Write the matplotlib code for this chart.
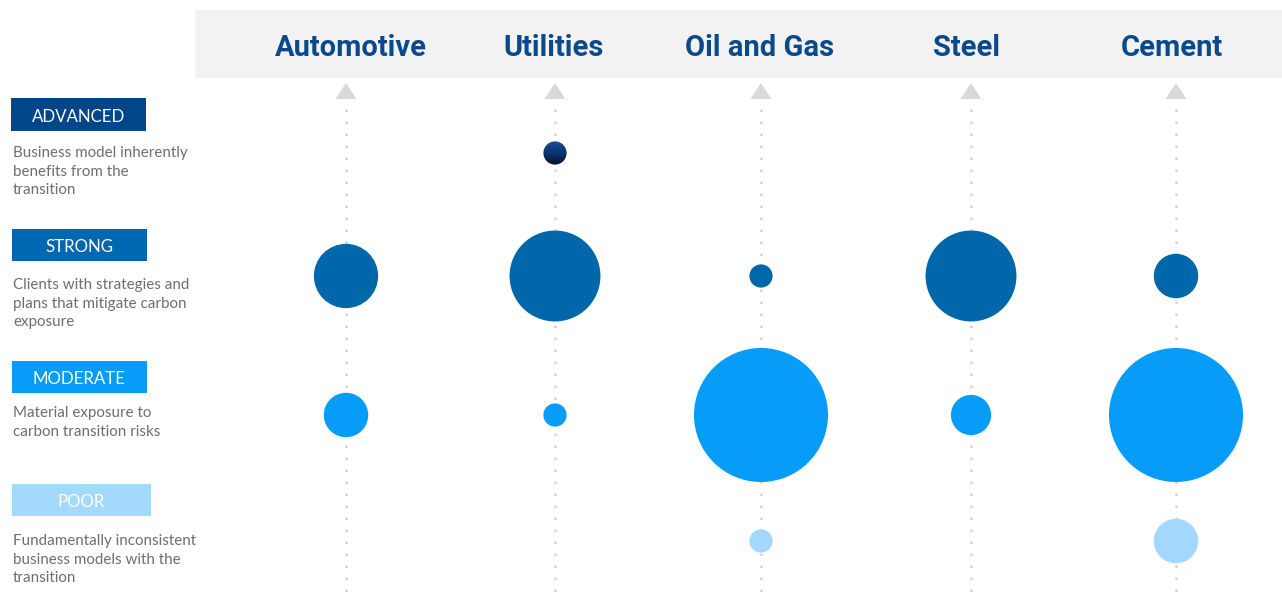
import numpy as np
import matplotlib
matplotlib.use('Agg')
import matplotlib.pyplot as plt
from matplotlib.patches import Rectangle, Circle

# 데이터
sectors = ['Automotive', 'Utilities', 'Oil and Gas', 'Steel', 'Cement']
ratings = ['ADVANCED', 'STRONG', 'MODERATE', 'POOR']
descriptions = [
    'Business model inherently\nbenefits from the\ntransition',
    'Clients with strategies and\nplans that mitigate carbon\nexposure',
    'Material exposure to\ncarbon transition risks',
    'Fundamentally inconsistent\nbusiness models with the\ntransition',
]
# 버블 크기 (면적 비례, 0 = 없음)
advanced = [0, 3, 0, 0, 0]
strong = [23, 46, 3, 46, 11]
moderate = [11, 3, 100, 9, 100]
poor = [0, 0, 3, 0, 11]

# 스타일 / 레이아웃
W, H = 1282, 597
col_x = [346, 555, 761, 971, 1176]
head_dx = [5, -1, -1, -5, -4]
row_y = [153, 276, 415, 541]
box_y = [(98, 131), (229, 261), (361, 393), (484, 516)]
box_x = [(11, 146), (12, 147), (12, 147), (12, 151)]
desc_y = [146.5, 278.5, 406.5, 534.5]
colors = ['#0b3f7e', '#0067ab', '#069cf8', '#a2d8fd']
box_colors = ['#004689', '#0068b0', '#069cf8', '#a3d9fd']
header_color = '#0a4a8c'
d_max = 134  # 값 100 에 대한 지름(px)

fig = plt.figure(figsize=(W / 100, H / 100), dpi=100)
ax = fig.add_axes([0, 0, 1, 1])
ax.set_xlim(0, W)
ax.set_ylim(H, 0)
ax.axis('off')

# 헤더
ax.add_patch(Rectangle((195, 10), W - 195, 68, color='#f2f2f2', lw=0, zorder=0))
for i, name in enumerate(sectors):
    x = col_x[i]
    ax.text(x + head_dx[i], 48, name, ha='center', va='center', fontsize=21,
            fontweight='bold', color=header_color, family='Roboto')
    # 점선 + 화살표
    ax.plot([x, x], [109, 592], color='#d3d3d3', lw=1.8,
            linestyle=(0, (1, 3.8)), dash_capstyle='butt', zorder=1)
    ax.fill([x - 10.5, x + 10.5, x], [99, 99, 83], color='#d9d9d9', lw=0, zorder=1)

# 버블
series = [advanced, strong, moderate, poor]
for r, vals in enumerate(series):
    for i, v in enumerate(vals):
        if v <= 0:
            continue
        x = col_x[i]
        rad = d_max / 2 * np.sqrt(v / 100)
        if r == 0:
            # ADVANCED 버블은 그라데이션
            circ = Circle((x, row_y[r]), rad, facecolor='none', edgecolor='none')
            ax.add_patch(circ)
            grad = np.linspace(0, 1, 64).reshape(-1, 1)
            cmap = matplotlib.colors.LinearSegmentedColormap.from_list(
                'adv', ['#1a4e92', '#0c3570', '#020f2a'])
            im = ax.imshow(grad, cmap=cmap, extent=(x - rad, x + rad, row_y[r] + rad, row_y[r] - rad),
                           aspect='auto', zorder=3, interpolation='bilinear')
            im.set_clip_path(circ)
        else:
            ax.add_patch(Circle((x, row_y[r]), rad, color=colors[r], lw=0, zorder=3))

# 왼쪽 라벨
for r, lab in enumerate(ratings):
    x0, x1 = box_x[r]
    y0, y1 = box_y[r]
    ax.add_patch(Rectangle((x0, y0), x1 - x0, y1 - y0, color=box_colors[r], lw=0, zorder=2))
    ax.text((x0 + x1) / 2, (y0 + y1) / 2 + 2, lab, ha='center', va='center', fontsize=12.2,
            color='white', family='Lato')
    ax.text(13, desc_y[r], descriptions[r], ha='left', va='top', fontsize=10.9,
            color='#6e6e6e', family='Lato', linespacing=1.38)

ax.set_xlim(0, W)
ax.set_ylim(H, 0)
fig.savefig('out.png', dpi=100)
